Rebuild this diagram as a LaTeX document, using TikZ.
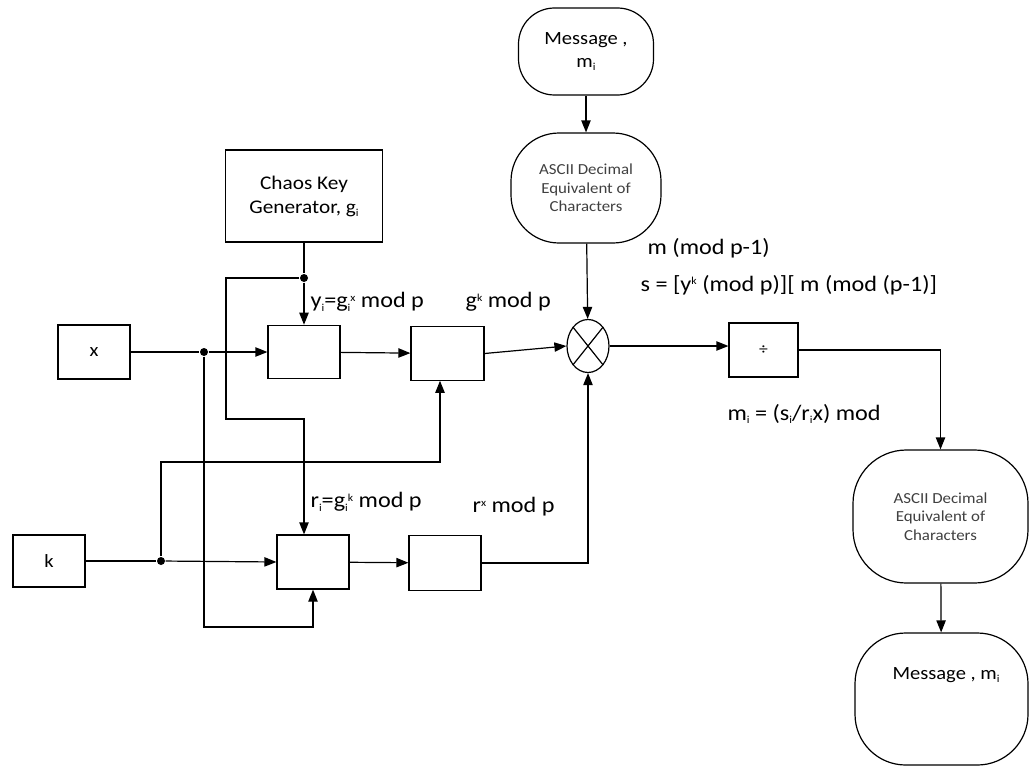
\documentclass[tikz,border=0pt]{standalone}
\usepackage{fontspec}
\setmainfont{Carlito}[FakeStretch=1.1]
\usetikzlibrary{arrows.meta,shapes.geometric}
\newcommand{\hiscr}[1]{\raisebox{0.6ex}{\fontsize{8}{9}\selectfont #1}}
\newcommand{\loscr}[1]{\raisebox{-0.35ex}{\fontsize{8}{9}\selectfont #1}}

\begin{document}
\begin{tikzpicture}[x=0.75pt, y=-0.75pt, line width=0.9pt,
	blk/.style={draw, rectangle, inner sep=0pt, align=center},
	term/.style={draw, rectangle, rounded corners=#1, inner sep=0pt, align=center},
	term/.default=22pt,
	lbl/.style={inner sep=0pt, anchor=west, font=\fontsize{16.5}{19}\selectfont},
	boxtxt/.style={font=\fontsize{11.5}{14}\selectfont, text=black!75},
	dot/.style={circle, fill, inner sep=0pt, minimum size=6pt},
	arr/.style={-{Triangle[length=9pt,width=7pt]}}]

	\useasboundingbox (0,0) rectangle (1030,767);

	% key generator and inputs
	\node[blk, minimum width=117.75pt, minimum height=69pt,
		font=\fontsize{14.5}{18}\selectfont] (chaos) at (304,196) {Chaos Key\\Generator, g\loscr{i}};
	\node[blk, minimum width=54pt, minimum height=40.5pt,
		font=\fontsize{14}{16}\selectfont] (xin) at (94,352) {x};
	\node[blk, minimum width=54pt, minimum height=39pt,
		font=\fontsize{14}{16}\selectfont] (kin) at (49,561) {k};

	% modular exponent blocks
	\node[blk, minimum width=54pt, minimum height=40pt] (b1) at (304,352) {};
	\node[blk, minimum width=54.75pt, minimum height=40pt] (b2) at (447.5,353.5) {};
	\node[blk, minimum width=54pt, minimum height=40.5pt] (b3) at (313,562) {};
	\node[blk, minimum width=54pt, minimum height=41pt] (b4) at (445,563) {};

	% junctions
	\node[dot] (j1) at (304,278) {};
	\node[dot] (j2) at (204,352) {};
	\node[dot] (j3) at (161,561) {};

	% multiplier and divider
	\node[draw, ellipse, minimum width=31.5pt, minimum height=39.75pt, inner sep=0pt] (mult) at (588,346) {};
	\draw (mult.north west) -- (mult.south east) (mult.north east) -- (mult.south west);
	\node[blk, minimum width=51.75pt, minimum height=40.5pt,
		font=\fontsize{12}{14}\selectfont] (div) at (763.5,350) {÷};

	% message side
	\node[term=27pt, minimum width=101.25pt, minimum height=65.25pt,
		font=\fontsize{14}{17}\selectfont] (msg1) at (586,51.5) {Message ,\\m\loscr{i}};
	\node[term=36pt, minimum width=112.5pt, minimum height=82.5pt, boxtxt] (asc1) at (586,188)
		{ASCII Decimal\\Equivalent of\\Characters};
	\node[term=40pt, minimum width=131.25pt, minimum height=99.75pt, boxtxt] (asc2) at (940.5,516.5)
		{ASCII Decimal\\Equivalent of\\Characters};
	\node[term=38pt, minimum width=129.75pt, minimum height=99pt] (msg2) at (941.5,699) {};
	\node[font=\fontsize{14}{17}\selectfont, inner sep=0pt] (msg2txt) at (946,675) {Message , m\loscr{i}};

	% labels
	\node[lbl] (ly) at (310,302) {y\loscr{i}=g\loscr{i}\hiscr{x} mod p};
	\node[lbl] (lg) at (465,302) {g\hiscr{k} mod p};
	\node[lbl] (lr) at (310,502) {r\loscr{i}=g\loscr{i}\hiscr{k} mod p};
	\node[lbl] (lrx) at (472,507) {r\hiscr{x} mod p};
	\node[lbl] (lm) at (647,248) {m (mod p-1)};
	\node[lbl] (ls) at (640,285) {s = [y\hiscr{k} (mod p)][ m (mod (p-1)]};
	\node[lbl] (lmi) at (727,414) {m\loscr{i} = (s\loscr{i}/r\loscr{i}x) mod};

	% connectors
	\coordinate (t1) at (226,278);
	\coordinate (t2) at (226,419);
	\coordinate (t3) at (204,627);
	\coordinate (t4) at (161,462);
	\coordinate (t5) at (440,462);

	\draw (chaos.south) -- (j1);
	\draw[arr] (j1) -- (b1.north);
	\draw[arr] (j1) -- (t1) -- (t2) -| (b3.north -| b1.north);
	\draw (xin.east) -- (j2);
	\draw[arr] (j2) -- (b1.west);
	\draw[arr] (j2) -- (t3) -| (b3.south);
	\draw (kin.east) -- (j3);
	\draw[arr] (j3) -- (b3.west);
	\draw[arr] (j3) -- (t4) -- (t5) -- (t5 |- b2.south);
	\draw[arr] (b1) -- (b2);
	\draw[arr] (b3) -- (b4);
	\draw[arr] (b2.east) -- (mult.west);
	\draw[arr] (b4.east) -| (mult.south);
	\draw[arr] (msg1) -- (asc1);
	\draw[arr] (asc1) -- (mult);
	\draw[arr] (mult.east) -- (mult.east -| div.west);
	\draw[arr] (div.east) -| (asc2.north);
	\draw[arr] (asc2) -- (msg2);
\end{tikzpicture}
\end{document}
